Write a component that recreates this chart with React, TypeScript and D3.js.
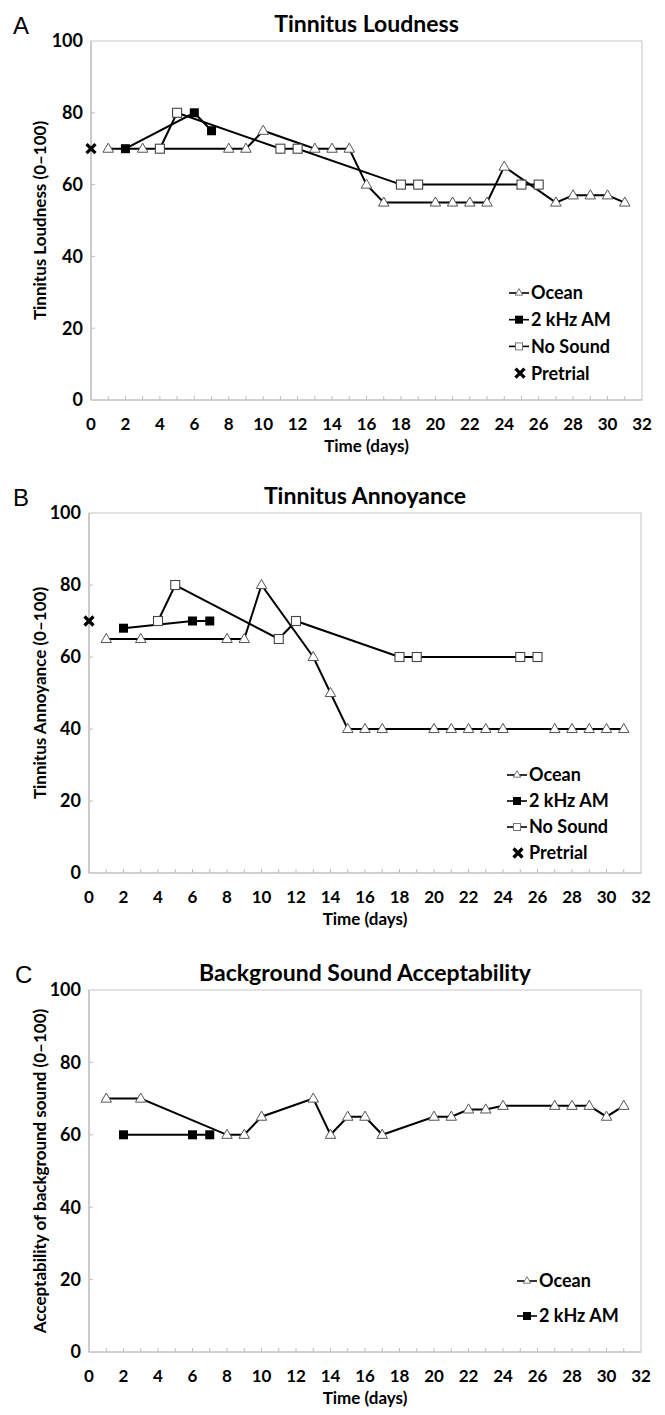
import React from "react";
import * as d3 from "d3";

// days on which each condition was measured
const oceanDays = [1, 3, 8, 9, 10, 13, 14, 15, 16, 17, 20, 21, 22, 23, 24, 27, 28, 29, 30, 31];
const amDays = [2, 6, 7];
const noSoundDays = [4, 5, 11, 12, 18, 19, 25, 26];
const pretrialDays = [0];

// A - loudness
const loudOcean = [70, 70, 70, 70, 75, 70, 70, 70, 60, 55, 55, 55, 55, 55, 65, 55, 57, 57, 57, 55];
const loudAM = [70, 80, 75];
const loudNoSound = [70, 80, 70, 70, 60, 60, 60, 60];
const loudPretrial = [70];

// B - annoyance
const annOcean = [65, 65, 65, 65, 80, 60, 50, 40, 40, 40, 40, 40, 40, 40, 40, 40, 40, 40, 40, 40];
const annAM = [68, 70, 70];
const annNoSound = [70, 80, 65, 70, 60, 60, 60, 60];
const annPretrial = [70];

// C - background sound acceptability
const accOcean = [70, 70, 60, 60, 65, 70, 60, 65, 65, 60, 65, 65, 67, 67, 68, 68, 68, 68, 65, 68];
const accAM = [60, 60, 60];

const xTicks = d3.range(0, 33, 2);
const yTicks = [0, 20, 40, 60, 80, 100];

const FONT = "Lato, 'Open Sans', sans-serif";

const zip = (xs, ys) => xs.map((x, i) => ({ x, y: ys[i] }));

const Marker = ({ kind, x, y }) => {
  if (kind === "triangle") {
    const p = d3.symbol(d3.symbolTriangle, 48)();
    return <path d={p} transform={`translate(${x},${y + 0.5})`} fill="#fff" stroke="#555" strokeWidth={1} />;
  }
  if (kind === "filled") {
    return <rect x={x - 4.5} y={y - 4.5} width={9} height={9} fill="#000" />;
  }
  if (kind === "open") {
    return <rect x={x - 4.5} y={y - 4.5} width={9} height={9} fill="#fff" stroke="#444" strokeWidth={1.1} />;
  }
  // pretrial cross
  return (
    <path
      d={`M${x - 4.5},${y - 4.5}L${x + 4.5},${y + 4.5}M${x - 4.5},${y + 4.5}L${x + 4.5},${y - 4.5}`}
      stroke="#000"
      strokeWidth={3.2}
    />
  );
};

const Panel = ({ p }) => {
  const x = d3.scaleLinear().domain([0, 32]).range([p.left, p.right]);
  const y = d3.scaleLinear().domain([0, 100]).range([p.bottom, p.top]);
  const line = d3
    .line()
    .x((d) => x(d.x))
    .y((d) => y(d.y));
  const midY = (p.top + p.bottom) / 2;
  const midX = (p.left + p.right) / 2;

  return (
    <g>
      <text x={p.letterX} y={p.top - 7} fontFamily="'Liberation Sans', Arial, sans-serif" fontSize={24}>
        {p.letter}
      </text>
      <text x={midX} y={p.top - 9} textAnchor="middle" fontFamily={FONT} fontWeight="bold" fontSize={23}>
        {p.title}
      </text>

      {/* plot frame */}
      <rect x={p.left} y={p.top} width={p.right - p.left} height={p.bottom - p.top} fill="none" stroke="#cfcfcf" strokeWidth={1.2} />
      <line x1={p.left} x2={p.left} y1={p.top} y2={p.bottom} stroke="#bdbdbd" strokeWidth={1.2} />
      <line x1={p.left} x2={p.right} y1={p.bottom} y2={p.bottom} stroke="#bdbdbd" strokeWidth={1.2} />

      {d3.range(1, 32).map((d) => (
        <line key={"xt" + d} x1={x(d)} x2={x(d)} y1={p.bottom} y2={p.bottom - 4} stroke="#bdbdbd" strokeWidth={1} />
      ))}
      {yTicks.map((t) => (
        <g key={"yt" + t}>
          {t > 0 && t < 100 && <line x1={p.left} x2={p.left + 4} y1={y(t)} y2={y(t)} stroke="#bdbdbd" strokeWidth={1} />}
          <text
            x={p.left - 8}
            y={y(t)}
            dy="0.36em"
            textAnchor="end"
            fontFamily={FONT}
            fontWeight="bold"
            fontSize={18}
          >
            {t}
          </text>
        </g>
      ))}
      {xTicks.map((t) => (
        <text key={"xl" + t} x={x(t)} y={p.bottom + 30} textAnchor="middle" fontFamily={FONT} fontWeight="bold" fontSize={17}>
          {t}
        </text>
      ))}
      <text x={midX} y={p.bottom + 52} textAnchor="middle" fontFamily={FONT} fontWeight="bold" fontSize={17}>
        Time (days)
      </text>
      <text
        transform={`translate(40,${midY}) rotate(-90)`}
        textAnchor="middle"
        dy="0.35em"
        fontFamily={FONT}
        fontWeight="bold"
        fontSize={17}
      >
        {p.ylabel}
      </text>

      {/* series */}
      {p.series.map((s) => {
        const pts = zip(s.days, s.values);
        return (
          <g key={s.name}>
            {s.kind !== "cross" && <path d={line(pts)} fill="none" stroke="#000" strokeWidth={2} />}
            {pts.map((d, i) => (
              <Marker key={i} kind={s.kind} x={x(d.x)} y={y(d.y)} />
            ))}
          </g>
        );
      })}

      {/* legend */}
      {p.series.map((s, i) => {
        const ly = p.legendY + i * p.legendGap;
        const lx = p.legendX;
        return (
          <g key={"lg" + s.name}>
            {s.kind !== "cross" && <line x1={lx} x2={lx + 20} y1={ly} y2={ly} stroke="#000" strokeWidth={1.6} />}
            {s.kind === "triangle" && (
              <path d={d3.symbol(d3.symbolTriangle, 24)()} transform={`translate(${lx + 10},${ly})`} fill="#fff" stroke="#777" strokeWidth={1} />
            )}
            {s.kind === "filled" && <rect x={lx + 6} y={ly - 4} width={8} height={8} fill="#000" />}
            {s.kind === "open" && <rect x={lx + 6.5} y={ly - 3.5} width={7} height={7} fill="#fff" stroke="#777" strokeWidth={1} />}
            {s.kind === "cross" && <Marker kind="cross" x={lx + 11} y={ly} />}
            <text x={lx + 22} y={ly} dy="0.36em" fontFamily={FONT} fontWeight="bold" fontSize={18}>
              {s.name}
            </text>
          </g>
        );
      })}
    </g>
  );
};

const panels = [
  {
    letter: "A",
    letterX: 13,
    title: "Tinnitus Loudness",
    ylabel: "Tinnitus Loudness (0–100)",
    left: 91,
    right: 642,
    top: 41,
    bottom: 400,
    legendX: 509,
    legendY: 293,
    legendGap: 26.7,
    series: [
      { name: "Ocean", kind: "triangle", days: oceanDays, values: loudOcean },
      { name: "2 kHz AM", kind: "filled", days: amDays, values: loudAM },
      { name: "No Sound", kind: "open", days: noSoundDays, values: loudNoSound },
      { name: "Pretrial", kind: "cross", days: pretrialDays, values: loudPretrial },
    ],
  },
  {
    letter: "B",
    letterX: 13,
    title: "Tinnitus Annoyance",
    ylabel: "Tinnitus Annoyance (0–100)",
    left: 89,
    right: 641,
    top: 513,
    bottom: 873,
    legendX: 507,
    legendY: 775,
    legendGap: 26,
    series: [
      { name: "Ocean", kind: "triangle", days: oceanDays, values: annOcean },
      { name: "2 kHz AM", kind: "filled", days: amDays, values: annAM },
      { name: "No Sound", kind: "open", days: noSoundDays, values: annNoSound },
      { name: "Pretrial", kind: "cross", days: pretrialDays, values: annPretrial },
    ],
  },
  {
    letter: "C",
    letterX: 15,
    title: "Background Sound Acceptability",
    ylabel: "Acceptability of background sound (0–100)",
    left: 89,
    right: 641,
    top: 990,
    bottom: 1352,
    legendX: 517,
    legendY: 1281,
    legendGap: 35,
    series: [
      { name: "Ocean", kind: "triangle", days: oceanDays, values: accOcean },
      { name: "2 kHz AM", kind: "filled", days: amDays, values: accAM },
    ],
  },
];

export default function App() {
  return (
    <svg width={665} height={1415} style={{ position: "absolute", left: 0, top: 0, background: "#fff" }}>
      {panels.map((p) => (
        <Panel key={p.letter} p={p} />
      ))}
    </svg>
  );
}
